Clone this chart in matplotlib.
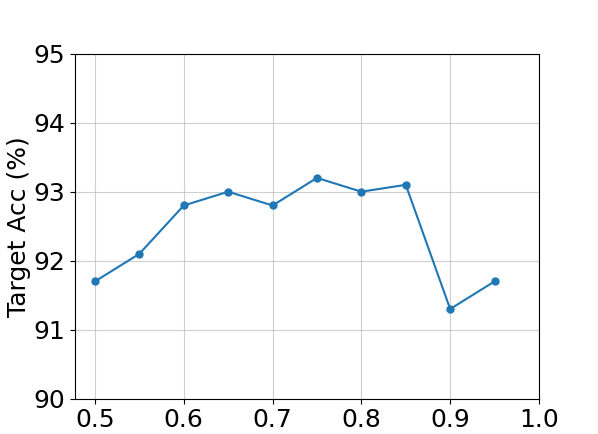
import matplotlib
matplotlib.use('Agg')
import matplotlib.pyplot as plt

ratios = [0.5, 0.55, 0.6, 0.65, 0.7, 0.75, 0.8, 0.85, 0.9, 0.95]
target_acc = [91.7, 92.1, 92.8, 93.0, 92.8, 93.2, 93.0, 93.1, 91.3, 91.7]
x_ticks = [0.5, 0.6, 0.7, 0.8, 0.9, 1.0]
y_ticks = [90, 91, 92, 93, 94, 95]

fig = plt.figure(figsize=(5.98, 4.34), dpi=100)
ax = fig.add_axes([0.1254, 0.0813, 0.7759, 0.795])
ax.plot(ratios, target_acc, color='#1f77b4', marker='o', markersize=5, linewidth=1.5)
ax.set_xticks(x_ticks)
ax.set_yticks(y_ticks)
ax.set_xlim(0.4775, 1.0)
ax.set_ylim(90, 95)
ax.set_ylabel('Target Acc (%)', fontsize=18, labelpad=1.5)
ax.tick_params(axis='both', labelsize=18)
ax.grid(True, alpha=0.6)
ax.set_axisbelow(True)

fig.savefig('out.png', dpi=100)
